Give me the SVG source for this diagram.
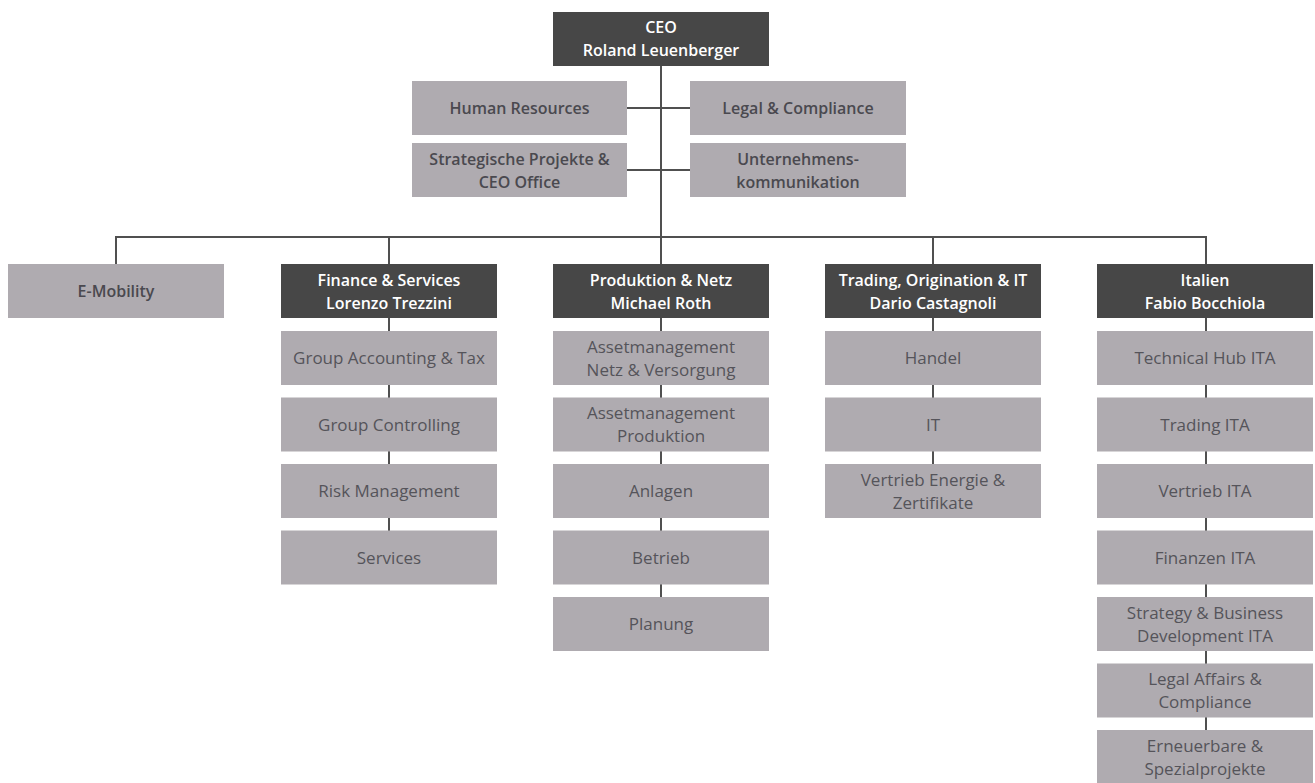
<svg xmlns="http://www.w3.org/2000/svg" width="1315" height="783" viewBox="0 0 1315 783">
<style>
text{font-family:"Open Sans","Liberation Sans",sans-serif;font-size:16px;text-anchor:middle}
.d{fill:#474747}
.l{fill:#afabb0}
.dt{fill:#ffffff;font-weight:600}
.st{fill:#4a494f;font-weight:600}
.lt{fill:#55545a;font-size:17px}
.c{stroke:#505050;stroke-width:2;fill:none}
</style>
<rect width="1315" height="783" fill="#ffffff"/>
<g id="connectors" class="c">
<path d="M661 66V264M627 108H690M627 170H690M116 264V237H1206V264M389 237V264M933 237V264"/>
<path d="M389 318V531M661 318V597M933 318V464M1206 318V730"/>
</g>
<g id="ceo"><rect class="d" x="553" y="12" width="216" height="54"/><text class="dt" x="661" y="33">CEO</text><text class="dt" x="661" y="56">Roland Leuenberger</text></g>
<g id="hr"><rect class="l" x="412" y="81" width="215" height="54"/><text class="st" x="519.5" y="114">Human Resources</text></g>
<g id="legal"><rect class="l" x="690" y="81" width="216" height="54"/><text class="st" x="798" y="114">Legal &amp; Compliance</text></g>
<g id="strat"><rect class="l" x="412" y="143" width="215" height="54"/><text class="st" x="519.5" y="164.5">Strategische Projekte &amp;</text><text class="st" x="519.5" y="187.5">CEO Office</text></g>
<g id="komm"><rect class="l" x="690" y="143" width="216" height="54"/><text class="st" x="798" y="164.5">Unternehmens-</text><text class="st" x="798" y="187.5">kommunikation</text></g>
<g id="emob"><rect class="l" x="8" y="264" width="216" height="54"/><text class="st" x="116" y="297">E-Mobility</text></g>
<g id="finance"><rect class="d" x="281" y="264" width="216" height="54"/><text class="dt" x="389" y="285.5">Finance &amp; Services</text><text class="dt" x="389" y="308.5">Lorenzo Trezzini</text></g>
<g id="prod"><rect class="d" x="553" y="264" width="216" height="54"/><text class="dt" x="661" y="285.5">Produktion &amp; Netz</text><text class="dt" x="661" y="308.5">Michael Roth</text></g>
<g id="trading"><rect class="d" x="825" y="264" width="216" height="54"/><text class="dt" x="933" y="285.5">Trading, Origination &amp; IT</text><text class="dt" x="933" y="308.5">Dario Castagnoli</text></g>
<g id="italien"><rect class="d" x="1097" y="264" width="216" height="54"/><text class="dt" x="1205" y="285.5">Italien</text><text class="dt" x="1205" y="308.5">Fabio Bocchiola</text></g>
<g id="f1"><rect class="l" x="281" y="331" width="216" height="54"/><text class="lt" x="389" y="364">Group Accounting &amp; Tax</text></g>
<g id="f2"><rect class="l" x="281" y="397.5" width="216" height="54"/><text class="lt" x="389" y="430.5">Group Controlling</text></g>
<g id="f3"><rect class="l" x="281" y="464" width="216" height="54"/><text class="lt" x="389" y="497">Risk Management</text></g>
<g id="f4"><rect class="l" x="281" y="530.5" width="216" height="54"/><text class="lt" x="389" y="563.5">Services</text></g>
<g id="p1"><rect class="l" x="553" y="331" width="216" height="54"/><text class="lt" x="661" y="352.5">Assetmanagement</text><text class="lt" x="661" y="375.5">Netz &amp; Versorgung</text></g>
<g id="p2"><rect class="l" x="553" y="397.5" width="216" height="54"/><text class="lt" x="661" y="419">Assetmanagement</text><text class="lt" x="661" y="442">Produktion</text></g>
<g id="p3"><rect class="l" x="553" y="464" width="216" height="54"/><text class="lt" x="661" y="497">Anlagen</text></g>
<g id="p4"><rect class="l" x="553" y="530.5" width="216" height="54"/><text class="lt" x="661" y="563.5">Betrieb</text></g>
<g id="p5"><rect class="l" x="553" y="597" width="216" height="54"/><text class="lt" x="661" y="630">Planung</text></g>
<g id="t1"><rect class="l" x="825" y="331" width="216" height="54"/><text class="lt" x="933" y="364">Handel</text></g>
<g id="t2"><rect class="l" x="825" y="397.5" width="216" height="54"/><text class="lt" x="933" y="430.5">IT</text></g>
<g id="t3"><rect class="l" x="825" y="464" width="216" height="54"/><text class="lt" x="933" y="485.5">Vertrieb Energie &amp;</text><text class="lt" x="933" y="508.5">Zertifikate</text></g>
<g id="i1"><rect class="l" x="1097" y="331" width="216" height="54"/><text class="lt" x="1205" y="364">Technical Hub ITA</text></g>
<g id="i2"><rect class="l" x="1097" y="397.5" width="216" height="54"/><text class="lt" x="1205" y="430.5">Trading ITA</text></g>
<g id="i3"><rect class="l" x="1097" y="464" width="216" height="54"/><text class="lt" x="1205" y="497">Vertrieb ITA</text></g>
<g id="i4"><rect class="l" x="1097" y="530.5" width="216" height="54"/><text class="lt" x="1205" y="563.5">Finanzen ITA</text></g>
<g id="i5"><rect class="l" x="1097" y="597" width="216" height="54"/><text class="lt" x="1205" y="618.5">Strategy &amp; Business</text><text class="lt" x="1205" y="641.5">Development ITA</text></g>
<g id="i6"><rect class="l" x="1097" y="663.5" width="216" height="54"/><text class="lt" x="1205" y="685">Legal Affairs &amp;</text><text class="lt" x="1205" y="708">Compliance</text></g>
<g id="i7"><rect class="l" x="1097" y="730" width="216" height="54"/><text class="lt" x="1205" y="751.5">Erneuerbare &amp;</text><text class="lt" x="1205" y="774.5">Spezialprojekte</text></g>
</svg>
